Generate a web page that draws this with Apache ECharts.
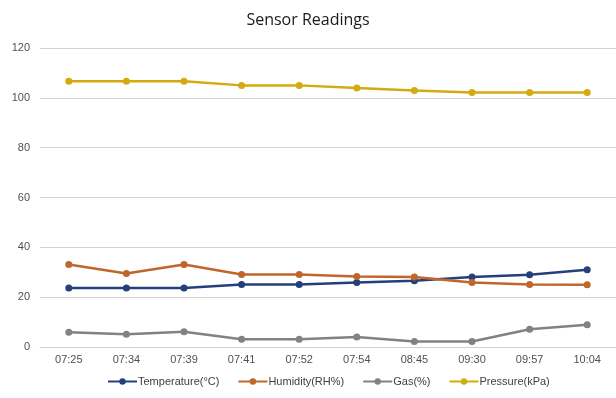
<!DOCTYPE html>
<html>
<head>
<meta charset="utf-8">
<script src="https://cdn.jsdelivr.net/npm/echarts@6/dist/echarts.min.js"></script>
<style>
  html, body { margin: 0; padding: 0; background: #fff; }
  #chart { width: 616px; height: 398px; }
</style>
</head>
<body>
<div id="chart"></div>
<script>
// Readings taken over one morning
const times = ['07:25', '07:34', '07:39', '07:41', '07:52', '07:54', '08:45', '09:30', '09:57', '10:04'];
const temperature = [23.7, 23.7, 23.7, 25.1, 25.1, 25.9, 26.6, 28.1, 29.0, 31.0];
const humidity = [33.1, 29.5, 33.1, 29.1, 29.1, 28.3, 28.1, 25.9, 25.1, 25.0];
const gas = [5.9, 5.1, 6.1, 3.1, 3.1, 4.0, 2.2, 2.2, 7.1, 8.9];
const pressure = [106.7, 106.7, 106.7, 105.0, 105.0, 103.9, 102.9, 102.1, 102.1, 102.1];

const seriesDefs = [
  { name: 'Temperature(°C)', data: temperature, color: '#24407a' },
  { name: 'Humidity(RH%)', data: humidity, color: '#c0662b' },
  { name: 'Gas(%)', data: gas, color: '#828282' },
  { name: 'Pressure(kPa)', data: pressure, color: '#d3ab10' }
];

const chart = echarts.init(document.getElementById('chart'), null, { renderer: 'canvas' });
chart.setOption({
  animation: false,
  backgroundColor: '#ffffff',
  title: {
    text: 'Sensor Readings',
    left: 'center',
    top: 7,
    textStyle: { fontFamily: 'Open Sans', fontSize: 16, fontWeight: 'normal', color: '#1a1a1a' }
  },
  grid: { left: 40, right: 0, top: 48, bottom: 51 },
  legend: {
    bottom: 6,
    left: 102,
    itemWidth: 29,
    itemHeight: 8,
    itemGap: 18,
    textStyle: { fontFamily: 'Liberation Sans', fontSize: 11, color: '#404040', padding: [0, 0, 0, -4] },
    data: seriesDefs.map(s => s.name)
  },
  xAxis: {
    type: 'category',
    data: times,
    boundaryGap: true,
    axisLine: { lineStyle: { color: '#d0d0d0', width: 1 } },
    axisTick: { show: false },
    axisLabel: { fontFamily: 'Liberation Sans', fontSize: 11, color: '#505050', margin: 7 }
  },
  yAxis: {
    type: 'value',
    min: 0,
    max: 120,
    interval: 20,
    axisLine: { show: false },
    axisTick: { show: false },
    axisLabel: { fontFamily: 'Liberation Sans', fontSize: 11, color: '#505050', margin: 10 },
    splitLine: { lineStyle: { color: '#d4d4d4', width: 1 } }
  },
  series: seriesDefs.map(s => ({
    name: s.name,
    type: 'line',
    data: s.data,
    symbol: 'circle',
    symbolSize: 7,
    color: s.color,
    lineStyle: { width: 2.5, color: s.color },
    itemStyle: { color: s.color }
  }))
});
</script>
</body>
</html>
